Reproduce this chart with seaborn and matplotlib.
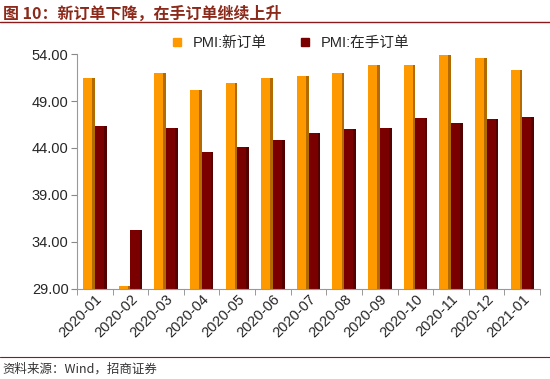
import numpy as np
import pandas as pd
import matplotlib
matplotlib.use('Agg')
import matplotlib.pyplot as plt
import matplotlib.ticker as mticker
from matplotlib.lines import Line2D
import seaborn as sns

sns.set_style('white')
plt.rcParams['font.family'] = ['Liberation Sans', 'Noto Sans CJK SC', 'DejaVu Sans']
plt.rcParams['axes.unicode_minus'] = False

# ── 데이터
MONTHS = ['2020-01', '2020-02', '2020-03', '2020-04', '2020-05', '2020-06', '2020-07',
          '2020-08', '2020-09', '2020-10', '2020-11', '2020-12', '2021-01']
NEW_ORDERS = [51.4, 29.3, 52.0, 50.2, 50.9, 51.4, 51.7, 52.0, 52.8, 52.8, 53.9, 53.6, 52.3]
BACKLOG    = [46.3, 35.3, 46.1, 43.6, 44.1, 44.8, 45.6, 46.0, 46.1, 47.2, 46.7, 47.1, 47.3]
SERIES = ['PMI:新订单', 'PMI:在手订单']
COLORS = ['#FF9900', '#7A0000']
TITLE  = '图 10：新订单下降，在手订单继续上升'
SOURCE = '资料来源：Wind，招商证券'

df = pd.DataFrame({'month': MONTHS * 2,
                   'value': NEW_ORDERS + BACKLOG,
                   'series': [SERIES[0]] * len(MONTHS) + [SERIES[1]] * len(MONTHS)})

fig = plt.figure(figsize=(5.5, 3.79), dpi=100)
ax = fig.add_axes([0.14, 0.2375, 0.842, 0.62])

sns.barplot(data=df, x='month', y='value', hue='series', palette=COLORS,
            width=0.66, gap=0.0, ax=ax, legend=False, saturation=1, linewidth=0)

# 3D 느낌: 오른쪽 어두운 면
for bar in ax.patches:
    fc = bar.get_facecolor()
    side = tuple(c * 0.7 for c in fc[:3])
    x0, w = bar.get_x(), bar.get_width()
    ax.add_patch(plt.Rectangle((x0 + w * 0.78, 29), w * 0.22, bar.get_height() - 29 + bar.get_y(),
                               color=side, lw=0, zorder=bar.get_zorder() + 0.1))

ax.set_ylim(29, 54)
ax.set_yticks(np.arange(29, 54.1, 5))
ax.yaxis.set_major_formatter(mticker.FormatStrFormatter('%.2f'))
ax.set_xlim(-0.5, len(MONTHS) - 0.5)
ax.set_xlabel(''); ax.set_ylabel('')
ax.tick_params(axis='y', labelsize=10.5, length=4, color='#888888', left=True, pad=2)
ax.tick_params(axis='x', labelsize=10.5, length=0, pad=2)
plt.setp(ax.get_xticklabels(), rotation=45, ha='right', rotation_mode='anchor')
ax.set_xticks(np.arange(-0.5, len(MONTHS), 1), minor=True)
ax.tick_params(axis='x', which='minor', length=4, color='#888888', bottom=True)
for s in ['top', 'right']:
    ax.spines[s].set_visible(False)
for s in ['left', 'bottom']:
    ax.spines[s].set_color('#999999')

# 범례
handles = [Line2D([0], [0], marker='s', ls='', color=c, markersize=6) for c in COLORS]
fig.legend(handles, SERIES, loc='center', bbox_to_anchor=(0.52, 0.886), ncol=2,
           frameon=False, fontsize=10.5, handletextpad=0.1, columnspacing=1.6)

# 제목 / 출처
fig.text(0.005, 0.965, TITLE, fontsize=11.5, fontweight='bold', color='#8B2A1A', va='center',
         family=['Noto Sans CJK SC', 'DejaVu Sans'])
fig.add_artist(plt.Line2D([0.0, 1.0], [0.942, 0.942], color='#8B1A1A', lw=1))
fig.add_artist(plt.Line2D([0.0, 1.0], [0.057, 0.057], color='#8B1A1A', lw=0.8))
fig.text(0.005, 0.025, SOURCE, fontsize=9, color='#333333', va='center',
         family=['Noto Sans CJK SC', 'DejaVu Sans'])

plt.savefig('out.png', dpi=100)
